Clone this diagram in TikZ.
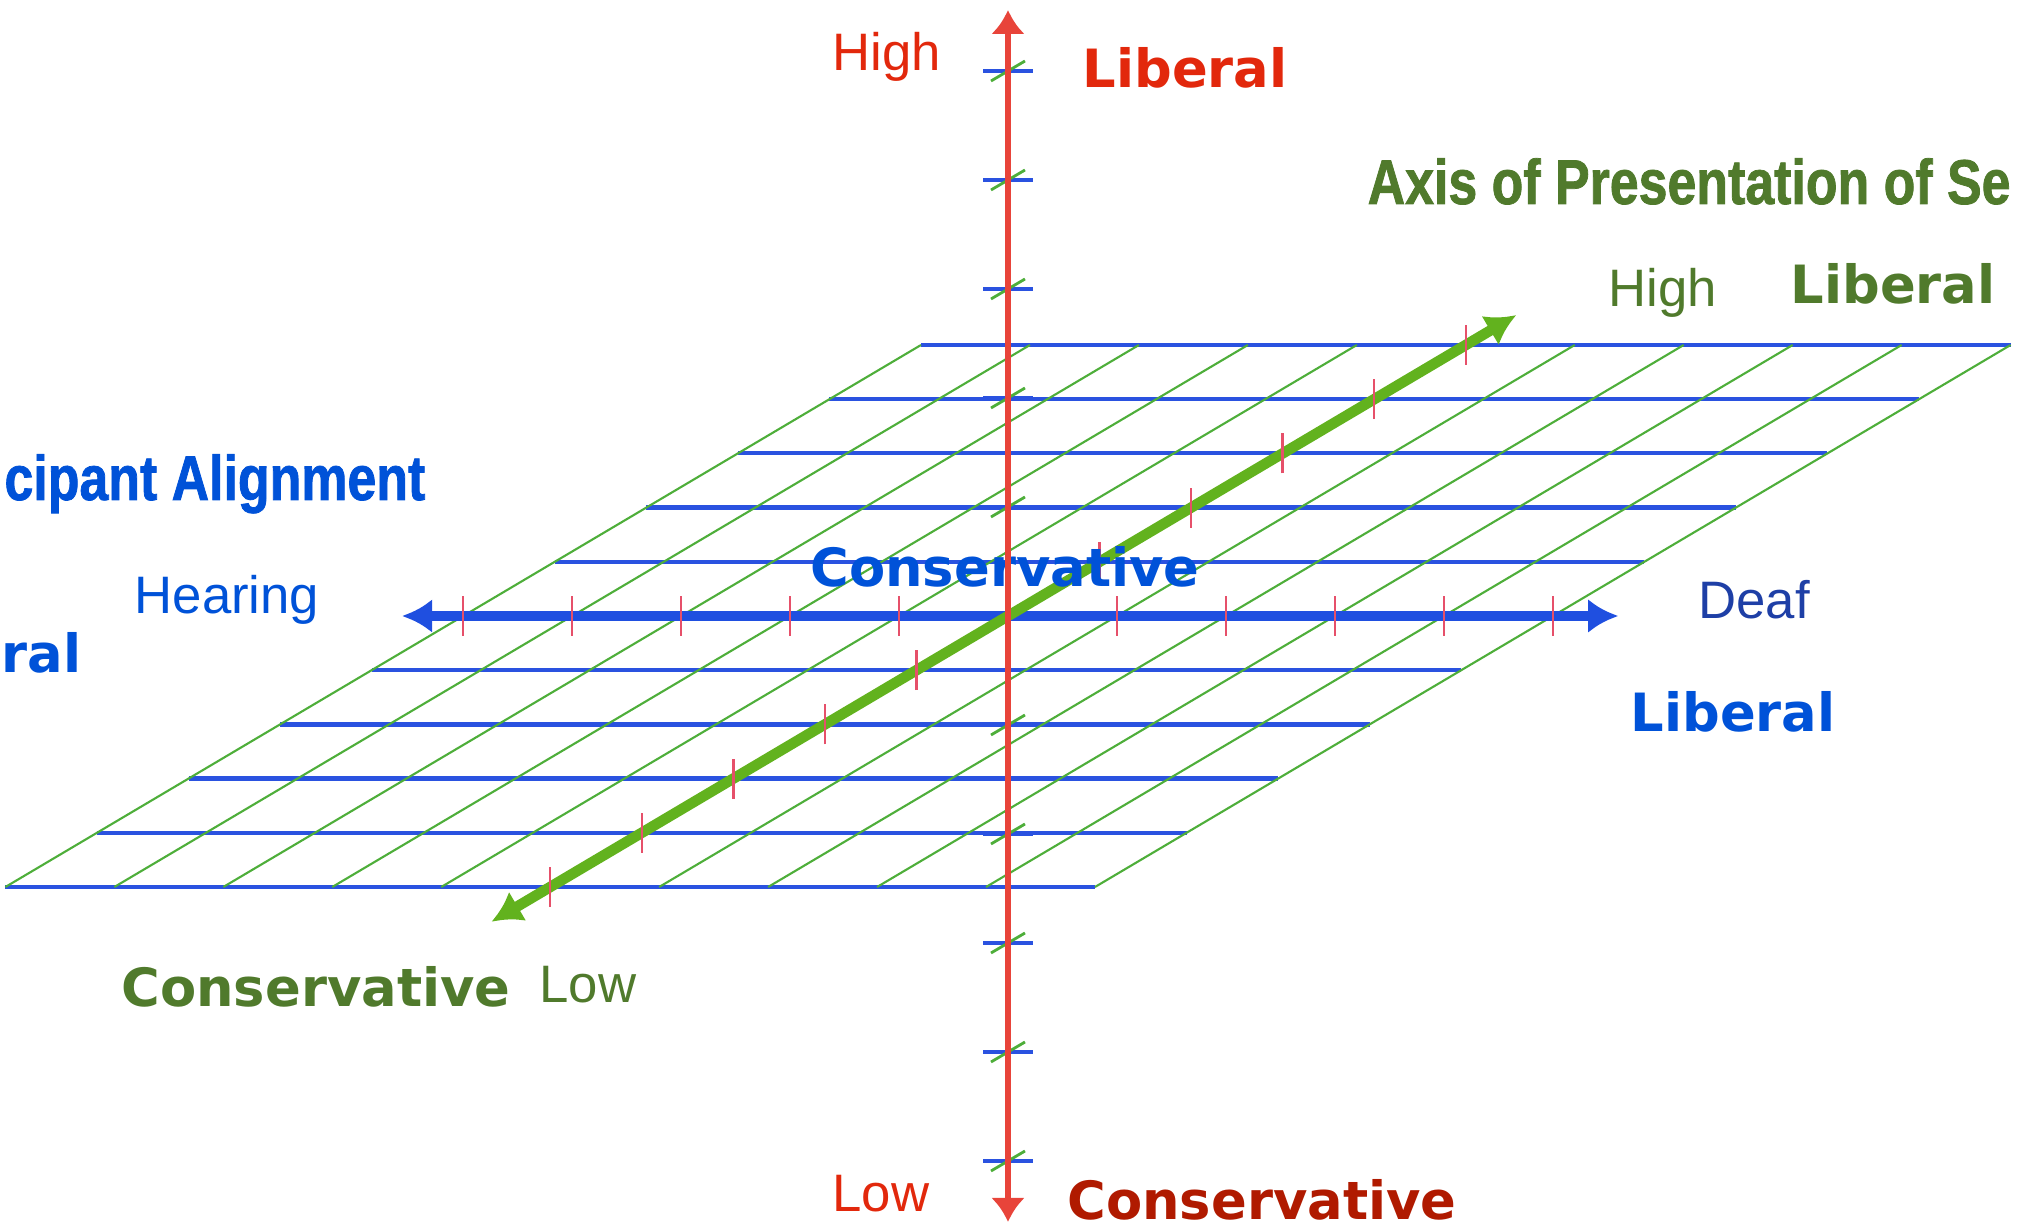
\documentclass[tikz,border=0pt]{standalone}
\usepackage{fontspec}
\setmainfont{Liberation Sans}
\newfontfamily\gillfont{DejaVu Sans}
\newfontfamily\condfont[FakeStretch=0.82,FakeBold=1.2]{Liberation Sans}
\usetikzlibrary{arrows.meta}

\definecolor{gblue}{HTML}{2A52E0}
\definecolor{ggreen}{HTML}{4EAE3A}
\definecolor{ablue}{HTML}{1F4FE0}
\definecolor{agreen}{HTML}{62B21E}
\definecolor{ared}{HTML}{E8443A}
\definecolor{tkred}{HTML}{E6506A}
\definecolor{lred}{HTML}{E2280C}
\definecolor{dred}{HTML}{B01A00}
\definecolor{tblue}{HTML}{0052D8}
\definecolor{tgreen}{HTML}{507A2C}
\definecolor{deafblue}{HTML}{1E3FA6}

\begin{document}
\begin{tikzpicture}[
  gridb/.style={line width=1.2pt, gblue},
  gridg/.style={line width=0.6pt, ggreen},
  axb/.style={arrows={Latex[length=3mm,width=3.4mm]-Latex[length=3mm,width=3.4mm]},
              line width=2.6pt, ablue},
  axg/.style={arrows={Latex[length=3mm,width=3.4mm]-Latex[length=3mm,width=3.4mm]},
              line width=3pt, agreen},
  axr/.style={arrows={Latex[length=2.4mm,width=3.4mm]-Latex[length=2.4mm,width=3.4mm]},
              line width=1.8pt, ared},
  tk/.style={line width=0.7pt, tkred},
  lbl/.style={font=\fontsize{15}{18}\selectfont, anchor=base, inner sep=0pt},
  big/.style={font=\gillfont\bfseries\fontsize{15}{18}\selectfont, anchor=base, inner sep=0pt},
  cond/.style={font=\condfont\bfseries\fontsize{18}{22}\selectfont, inner sep=0pt},
]

\useasboundingbox (0,0) rectangle (20.22,12.29);
\clip (0,0) rectangle (20.22,12.29);

\coordinate (O) at (10.08,6.13);

% Plane (skewed grid)
\begin{scope}[shift={(O)}, x={(1.0896cm,0cm)}, y={(0.9156cm,0.542cm)}]
  \foreach \j in {-5,...,5} \draw[gridb] (-5,\j) -- (5,\j);
  \foreach \i in {-5,...,5} \draw[gridg] (\i,-5) -- (\i,5);
  % axis ends
  \coordinate (BL) at (-5.56,0);
  \coordinate (BR) at (5.60,0);
  \coordinate (GL) at (0,-5.64);
  \coordinate (GH) at (0,5.55);
\end{scope}

% Axes in the plane
\draw[axb] (BL) -- (BR);
\draw[axg] (GL) -- (GH);

\begin{scope}[shift={(O)}, x={(1.0896cm,0cm)}, y={(0.9156cm,0.542cm)}]
  \foreach \k in {-5,-4,-3,-2,-1,1,2,3,4,5} {
    \draw[tk] (\k,0) ++(0pt,-2mm) -- ++(0pt,4mm);
    \draw[tk] (0,\k) ++(0pt,-2mm) -- ++(0pt,4mm);
  }
\end{scope}

% Labels
\node[lbl, text=lred] (HIR) at (8.87,11.58) {High};
\node[big, text=lred] (LIBR) at (11.85,11.41) {Liberal};
\node[cond, text=tgreen, anchor=base west] (AXS) at (13.67,10.25) {Axis of Presentation of Se};
\node[lbl, text=tgreen] (HIG) at (16.63,9.22) {High};
\node[big, text=tgreen] (LIBG) at (18.93,9.25) {Liberal};
\node[cond, text=tblue, anchor=base east] (AXP) at (4.26,7.29) {cipant Alignment};
\node[lbl, text=tblue] (HEAR) at (2.27,6.15) {Hearing};
\node[big, text=tblue, anchor=base east] (LIBH) at (0.82,5.56) {ral};
\node[big, text=tblue] (CONB) at (10.05,6.42) {Conservative};
\node[lbl, text=deafblue] (DEAF) at (17.54,6.10) {Deaf};
\node[big, text=tblue] (LIBB) at (17.33,4.97) {Liberal};
\node[big, text=tgreen] (CONG) at (3.16,2.22) {Conservative};
\node[lbl, text=tgreen] (LOWG) at (5.88,2.26) {Low};
\node[lbl, text=lred] (LOWR) at (8.81,0.17) {Low};
\node[big, text=dred] (CONR) at (12.62,0.09) {Conservative};

% Vertical axis with its ticks
\foreach \k in {-5,-4,-3,-2,-1,1,2,3,4,5} {
  \draw[gridb, line width=1pt, shift={(O)}] (-0.25,\k*1.09) -- (0.25,\k*1.09);
  \draw[gridg, line width=0.8pt, shift={(O)}] (-0.17,\k*1.09-0.1) -- (0.17,\k*1.09+0.1);
}
\coordinate (RB) at (10.08,0.07);
\coordinate (RT) at (10.08,12.19);
\draw[axr] (RB) -- (RT);

\end{tikzpicture}
\end{document}
